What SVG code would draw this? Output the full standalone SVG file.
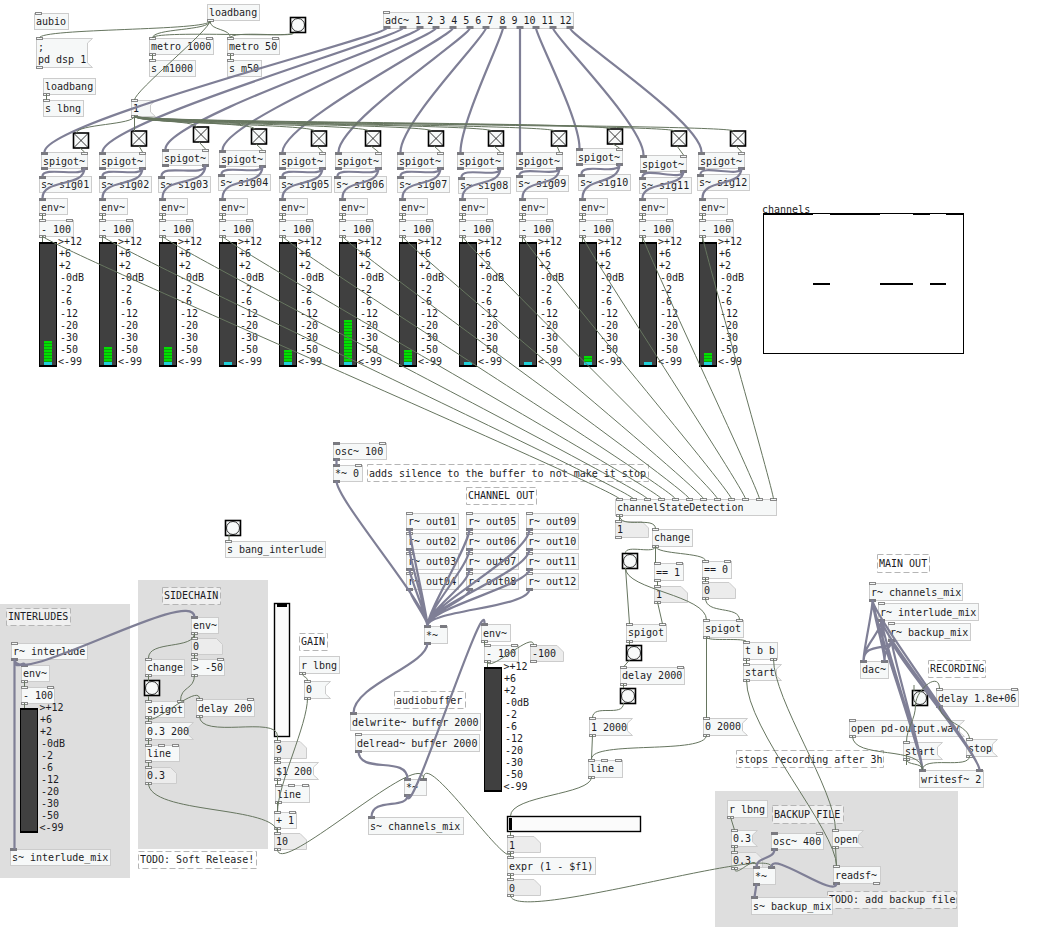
<svg xmlns="http://www.w3.org/2000/svg" width="1052" height="934" viewBox="0 0 1052 934">
<style>
text{font-family:"DejaVu Sans Mono","Liberation Mono",monospace;font-size:10px;fill:#1c1c24}
.b{fill:#f6f8f8;stroke:#ccc;stroke-width:1}
.n{fill:#ececec;stroke:#ccc;stroke-width:1}
.m{fill:#f6f8f8;stroke:#ccc;stroke-width:1}
.d{fill:#fff;fill-opacity:.55;stroke:#b5b5b5;stroke-width:1;stroke-dasharray:6 3}
.c{fill:#f6f8f8;stroke:#888;stroke-width:1;width:6px;height:2px;transform:translate(.5px,.5px)}
.s{fill:#7a7a80;width:7px;height:3px}
.g{fill:#dedede}
.t{fill:#f8fafa;stroke:#000;stroke-width:1.6;width:15px;height:15px}
.l{fill:none;stroke:#000;stroke-width:.8}
.vb{fill:#000;width:18px;height:125px}
.vi{fill:#404040;x:1px;y:2px;width:16px;height:121px}
.cy{fill:#20d0d8;x:5px;y:120px;width:8px;height:3px}
.gr{fill:url(#stripes)}
.w{fill:none;stroke:#66755f;stroke-width:1}
.a{fill:none;stroke:#7f7f96;stroke-width:2.2}
</style>
<defs>
<pattern id="stripes" width="8" height="3" patternUnits="userSpaceOnUse"><rect width="8" height="3" fill="#10a010"/><rect width="8" height="2" fill="#00e000"/></pattern>
</defs>
<g id="bg_panels">
<rect class="g" x="138" y="580" width="130" height="269"/>
<rect class="g" x="0" y="604" width="130" height="274"/>
<rect class="g" x="715" y="791" width="243" height="136"/>
</g>
<g id="aubio"><rect class="b" x="34.5" y="13.5" width="34" height="16"/><rect class="c" x="35" y="12"/><text x="36" y="25">aubio</text></g>
<g id="loadbang1"><rect class="b" x="207.5" y="4.5" width="52" height="16"/><rect class="c" x="207" y="19"/><text x="209" y="16">loadbang</text></g>
<g id="bang_top"><rect class="t" x="290.5" y="17.5"/><circle class="l" cx="298" cy="25" r="6.5"/></g>
<g id="msg_dsp"><polygon class="m" points="36.5,38.5 92.5,38.5 87.5,43 87.5,63 92.5,67.5 36.5,67.5"/><rect class="c" x="36" y="37"/><rect class="c" x="36" y="66"/><text x="38" y="51">;</text><text x="38" y="63">pd dsp 1</text></g>
<g id="metro1000"><rect class="b" x="149.5" y="38.5" width="64" height="16"/><rect class="c" x="149" y="37"/><rect class="c" x="206" y="37"/><rect class="c" x="149" y="53"/><text x="151" y="50">metro 1000</text></g>
<g id="metro50"><rect class="b" x="227.5" y="38.5" width="52" height="16"/><rect class="c" x="227" y="37"/><rect class="c" x="272" y="37"/><rect class="c" x="227" y="53"/><text x="229" y="50">metro 50</text></g>
<g id="s_m1000"><rect class="b" x="149.5" y="60.5" width="46" height="16"/><rect class="c" x="149" y="59"/><text x="151" y="72">s m1000</text></g>
<g id="s_m50"><rect class="b" x="227.5" y="60.5" width="34" height="16"/><rect class="c" x="227" y="59"/><text x="229" y="72">s m50</text></g>
<g id="loadbang2"><rect class="b" x="43.5" y="78.5" width="52" height="16"/><rect class="c" x="43" y="93"/><text x="45" y="90">loadbang</text></g>
<g id="s_lbng"><rect class="b" x="43.5" y="100.5" width="40" height="16"/><rect class="c" x="43" y="99"/><text x="45" y="112">s lbng</text></g>
<g id="msg_1"><polygon class="m" points="131.5,100.5 155.5,100.5 150.5,105 150.5,112 155.5,116.5 131.5,116.5"/><rect class="c" x="131" y="99"/><rect class="c" x="131" y="115"/><text x="133" y="112">1</text></g>
<g id="adc"><rect class="b" x="383.5" y="12.5" width="190" height="16"/><rect class="c" x="383" y="11"/><rect class="s" x="383.5" y="26"/><rect class="s" x="399.5" y="26"/><rect class="s" x="416.5" y="26"/><rect class="s" x="432.5" y="26"/><rect class="s" x="449.5" y="26"/><rect class="s" x="466.5" y="26"/><rect class="s" x="482.5" y="26"/><rect class="s" x="499.5" y="26"/><rect class="s" x="516.5" y="26"/><rect class="s" x="532.5" y="26"/><rect class="s" x="549.5" y="26"/><rect class="s" x="566.5" y="26"/><text x="385" y="24">adc~ 1 2 3 4 5 6 7 8 9 10 11 12</text></g>
<g id="tgl01"><rect class="t" x="73.5" y="133"/><path class="l" d="M73.5 133l15 15m0-15l-15 15"/></g>
<g id="tgl02"><rect class="t" x="131.5" y="131"/><path class="l" d="M131.5 131l15 15m0-15l-15 15"/></g>
<g id="tgl03"><rect class="t" x="193.5" y="127"/><path class="l" d="M193.5 127l15 15m0-15l-15 15"/></g>
<g id="tgl04"><rect class="t" x="251.5" y="129"/><path class="l" d="M251.5 129l15 15m0-15l-15 15"/></g>
<g id="tgl05"><rect class="t" x="311.5" y="131"/><path class="l" d="M311.5 131l15 15m0-15l-15 15"/></g>
<g id="tgl06"><rect class="t" x="365.5" y="131"/><path class="l" d="M365.5 131l15 15m0-15l-15 15"/></g>
<g id="tgl07"><rect class="t" x="428.5" y="131"/><path class="l" d="M428.5 131l15 15m0-15l-15 15"/></g>
<g id="tgl08"><rect class="t" x="488.5" y="131"/><path class="l" d="M488.5 131l15 15m0-15l-15 15"/></g>
<g id="tgl09"><rect class="t" x="551.5" y="131"/><path class="l" d="M551.5 131l15 15m0-15l-15 15"/></g>
<g id="tgl10"><rect class="t" x="607.5" y="129"/><path class="l" d="M607.5 129l15 15m0-15l-15 15"/></g>
<g id="tgl11"><rect class="t" x="671.5" y="131"/><path class="l" d="M671.5 131l15 15m0-15l-15 15"/></g>
<g id="tgl12"><rect class="t" x="730.5" y="131"/><path class="l" d="M730.5 131l15 15m0-15l-15 15"/></g>
<g id="spigot01" transform="translate(41,152)"><rect class="b" x=".5" y=".5" width="46" height="16"/><rect class="s" x="0" y="0"/><rect class="c" x="40" y="0"/><rect class="s" x="0" y="15"/><rect class="s" x="40" y="15"/><text x="2" y="13">spigot~</text></g>
<g id="spigot02" transform="translate(99,152)"><rect class="b" x=".5" y=".5" width="46" height="16"/><rect class="s" x="0" y="0"/><rect class="c" x="40" y="0"/><rect class="s" x="0" y="15"/><rect class="s" x="40" y="15"/><text x="2" y="13">spigot~</text></g>
<g id="spigot03" transform="translate(162,149)"><rect class="b" x=".5" y=".5" width="46" height="16"/><rect class="s" x="0" y="0"/><rect class="c" x="40" y="0"/><rect class="s" x="0" y="15"/><rect class="s" x="40" y="15"/><text x="2" y="13">spigot~</text></g>
<g id="spigot04" transform="translate(219,150)"><rect class="b" x=".5" y=".5" width="46" height="16"/><rect class="s" x="0" y="0"/><rect class="c" x="40" y="0"/><rect class="s" x="0" y="15"/><rect class="s" x="40" y="15"/><text x="2" y="13">spigot~</text></g>
<g id="spigot05" transform="translate(279,152)"><rect class="b" x=".5" y=".5" width="46" height="16"/><rect class="s" x="0" y="0"/><rect class="c" x="40" y="0"/><rect class="s" x="0" y="15"/><rect class="s" x="40" y="15"/><text x="2" y="13">spigot~</text></g>
<g id="spigot06" transform="translate(335,152)"><rect class="b" x=".5" y=".5" width="46" height="16"/><rect class="s" x="0" y="0"/><rect class="c" x="40" y="0"/><rect class="s" x="0" y="15"/><rect class="s" x="40" y="15"/><text x="2" y="13">spigot~</text></g>
<g id="spigot07" transform="translate(397,152)"><rect class="b" x=".5" y=".5" width="46" height="16"/><rect class="s" x="0" y="0"/><rect class="c" x="40" y="0"/><rect class="s" x="0" y="15"/><rect class="s" x="40" y="15"/><text x="2" y="13">spigot~</text></g>
<g id="spigot08" transform="translate(457,152)"><rect class="b" x=".5" y=".5" width="46" height="16"/><rect class="s" x="0" y="0"/><rect class="c" x="40" y="0"/><rect class="s" x="0" y="15"/><rect class="s" x="40" y="15"/><text x="2" y="13">spigot~</text></g>
<g id="spigot09" transform="translate(516,152)"><rect class="b" x=".5" y=".5" width="46" height="16"/><rect class="s" x="0" y="0"/><rect class="c" x="40" y="0"/><rect class="s" x="0" y="15"/><rect class="s" x="40" y="15"/><text x="2" y="13">spigot~</text></g>
<g id="spigot10" transform="translate(576,148)"><rect class="b" x=".5" y=".5" width="46" height="16"/><rect class="s" x="0" y="0"/><rect class="c" x="40" y="0"/><rect class="s" x="0" y="15"/><rect class="s" x="40" y="15"/><text x="2" y="13">spigot~</text></g>
<g id="spigot11" transform="translate(640,155)"><rect class="b" x=".5" y=".5" width="46" height="16"/><rect class="s" x="0" y="0"/><rect class="c" x="40" y="0"/><rect class="s" x="0" y="15"/><rect class="s" x="40" y="15"/><text x="2" y="13">spigot~</text></g>
<g id="spigot12" transform="translate(698,152)"><rect class="b" x=".5" y=".5" width="46" height="16"/><rect class="s" x="0" y="0"/><rect class="c" x="40" y="0"/><rect class="s" x="0" y="15"/><rect class="s" x="40" y="15"/><text x="2" y="13">spigot~</text></g>
<g id="sig01" transform="translate(39,176)"><rect class="b" x=".5" y=".5" width="52" height="16"/><rect class="s" x="0" y="0"/><text x="2" y="12">s~ sig01</text></g>
<g id="sig02" transform="translate(99,176)"><rect class="b" x=".5" y=".5" width="52" height="16"/><rect class="s" x="0" y="0"/><text x="2" y="12">s~ sig02</text></g>
<g id="sig03" transform="translate(158,176)"><rect class="b" x=".5" y=".5" width="52" height="16"/><rect class="s" x="0" y="0"/><text x="2" y="12">s~ sig03</text></g>
<g id="sig04" transform="translate(218,174)"><rect class="b" x=".5" y=".5" width="52" height="16"/><rect class="s" x="0" y="0"/><text x="2" y="12">s~ sig04</text></g>
<g id="sig05" transform="translate(279,176)"><rect class="b" x=".5" y=".5" width="52" height="16"/><rect class="s" x="0" y="0"/><text x="2" y="12">s~ sig05</text></g>
<g id="sig06" transform="translate(334,176)"><rect class="b" x=".5" y=".5" width="52" height="16"/><rect class="s" x="0" y="0"/><text x="2" y="12">s~ sig06</text></g>
<g id="sig07" transform="translate(397,176)"><rect class="b" x=".5" y=".5" width="52" height="16"/><rect class="s" x="0" y="0"/><text x="2" y="12">s~ sig07</text></g>
<g id="sig08" transform="translate(458,177)"><rect class="b" x=".5" y=".5" width="52" height="16"/><rect class="s" x="0" y="0"/><text x="2" y="12">s~ sig08</text></g>
<g id="sig09" transform="translate(516,175)"><rect class="b" x=".5" y=".5" width="52" height="16"/><rect class="s" x="0" y="0"/><text x="2" y="12">s~ sig09</text></g>
<g id="sig10" transform="translate(578,174)"><rect class="b" x=".5" y=".5" width="52" height="16"/><rect class="s" x="0" y="0"/><text x="2" y="12">s~ sig10</text></g>
<g id="sig11" transform="translate(639,177)"><rect class="b" x=".5" y=".5" width="52" height="16"/><rect class="s" x="0" y="0"/><text x="2" y="12">s~ sig11</text></g>
<g id="sig12" transform="translate(697,174)"><rect class="b" x=".5" y=".5" width="52" height="16"/><rect class="s" x="0" y="0"/><text x="2" y="12">s~ sig12</text></g>
<g id="env01" transform="translate(39,198)"><rect class="b" x=".5" y=".5" width="28" height="16"/><rect class="s" x="0" y="0"/><rect class="c" x="0" y="15"/><text x="2" y="13">env~</text></g>
<g id="env02" transform="translate(99,198)"><rect class="b" x=".5" y=".5" width="28" height="16"/><rect class="s" x="0" y="0"/><rect class="c" x="0" y="15"/><text x="2" y="13">env~</text></g>
<g id="env03" transform="translate(159,198)"><rect class="b" x=".5" y=".5" width="28" height="16"/><rect class="s" x="0" y="0"/><rect class="c" x="0" y="15"/><text x="2" y="13">env~</text></g>
<g id="env04" transform="translate(219,198)"><rect class="b" x=".5" y=".5" width="28" height="16"/><rect class="s" x="0" y="0"/><rect class="c" x="0" y="15"/><text x="2" y="13">env~</text></g>
<g id="env05" transform="translate(279,198)"><rect class="b" x=".5" y=".5" width="28" height="16"/><rect class="s" x="0" y="0"/><rect class="c" x="0" y="15"/><text x="2" y="13">env~</text></g>
<g id="env06" transform="translate(339,198)"><rect class="b" x=".5" y=".5" width="28" height="16"/><rect class="s" x="0" y="0"/><rect class="c" x="0" y="15"/><text x="2" y="13">env~</text></g>
<g id="env07" transform="translate(399,198)"><rect class="b" x=".5" y=".5" width="28" height="16"/><rect class="s" x="0" y="0"/><rect class="c" x="0" y="15"/><text x="2" y="13">env~</text></g>
<g id="env08" transform="translate(459,198)"><rect class="b" x=".5" y=".5" width="28" height="16"/><rect class="s" x="0" y="0"/><rect class="c" x="0" y="15"/><text x="2" y="13">env~</text></g>
<g id="env09" transform="translate(519,198)"><rect class="b" x=".5" y=".5" width="28" height="16"/><rect class="s" x="0" y="0"/><rect class="c" x="0" y="15"/><text x="2" y="13">env~</text></g>
<g id="env10" transform="translate(579,198)"><rect class="b" x=".5" y=".5" width="28" height="16"/><rect class="s" x="0" y="0"/><rect class="c" x="0" y="15"/><text x="2" y="13">env~</text></g>
<g id="env11" transform="translate(639,198)"><rect class="b" x=".5" y=".5" width="28" height="16"/><rect class="s" x="0" y="0"/><rect class="c" x="0" y="15"/><text x="2" y="13">env~</text></g>
<g id="env12" transform="translate(699,198)"><rect class="b" x=".5" y=".5" width="28" height="16"/><rect class="s" x="0" y="0"/><rect class="c" x="0" y="15"/><text x="2" y="13">env~</text></g>
<g id="minus01" transform="translate(39,220)"><rect class="b" x=".5" y=".5" width="34" height="16"/><rect class="c" x="0" y="-1"/><rect class="c" x="27" y="-1"/><rect class="c" x="0" y="15"/><text x="2" y="13">- 100</text></g>
<g id="minus02" transform="translate(99,220)"><rect class="b" x=".5" y=".5" width="34" height="16"/><rect class="c" x="0" y="-1"/><rect class="c" x="27" y="-1"/><rect class="c" x="0" y="15"/><text x="2" y="13">- 100</text></g>
<g id="minus03" transform="translate(159,220)"><rect class="b" x=".5" y=".5" width="34" height="16"/><rect class="c" x="0" y="-1"/><rect class="c" x="27" y="-1"/><rect class="c" x="0" y="15"/><text x="2" y="13">- 100</text></g>
<g id="minus04" transform="translate(219,220)"><rect class="b" x=".5" y=".5" width="34" height="16"/><rect class="c" x="0" y="-1"/><rect class="c" x="27" y="-1"/><rect class="c" x="0" y="15"/><text x="2" y="13">- 100</text></g>
<g id="minus05" transform="translate(279,220)"><rect class="b" x=".5" y=".5" width="34" height="16"/><rect class="c" x="0" y="-1"/><rect class="c" x="27" y="-1"/><rect class="c" x="0" y="15"/><text x="2" y="13">- 100</text></g>
<g id="minus06" transform="translate(339,220)"><rect class="b" x=".5" y=".5" width="34" height="16"/><rect class="c" x="0" y="-1"/><rect class="c" x="27" y="-1"/><rect class="c" x="0" y="15"/><text x="2" y="13">- 100</text></g>
<g id="minus07" transform="translate(399,220)"><rect class="b" x=".5" y=".5" width="34" height="16"/><rect class="c" x="0" y="-1"/><rect class="c" x="27" y="-1"/><rect class="c" x="0" y="15"/><text x="2" y="13">- 100</text></g>
<g id="minus08" transform="translate(459,220)"><rect class="b" x=".5" y=".5" width="34" height="16"/><rect class="c" x="0" y="-1"/><rect class="c" x="27" y="-1"/><rect class="c" x="0" y="15"/><text x="2" y="13">- 100</text></g>
<g id="minus09" transform="translate(519,220)"><rect class="b" x=".5" y=".5" width="34" height="16"/><rect class="c" x="0" y="-1"/><rect class="c" x="27" y="-1"/><rect class="c" x="0" y="15"/><text x="2" y="13">- 100</text></g>
<g id="minus10" transform="translate(579,220)"><rect class="b" x=".5" y=".5" width="34" height="16"/><rect class="c" x="0" y="-1"/><rect class="c" x="27" y="-1"/><rect class="c" x="0" y="15"/><text x="2" y="13">- 100</text></g>
<g id="minus11" transform="translate(639,220)"><rect class="b" x=".5" y=".5" width="34" height="16"/><rect class="c" x="0" y="-1"/><rect class="c" x="27" y="-1"/><rect class="c" x="0" y="15"/><text x="2" y="13">- 100</text></g>
<g id="minus12" transform="translate(699,220)"><rect class="b" x=".5" y=".5" width="34" height="16"/><rect class="c" x="0" y="-1"/><rect class="c" x="27" y="-1"/><rect class="c" x="0" y="15"/><text x="2" y="13">- 100</text></g>
<g id="vu01" transform="translate(39,242)"><rect class="vb"/><rect class="vi"/><rect class="gr" x="5" y="99" width="8" height="21"/><rect class="cy"/><text x="19" y="2.5">&gt;+12</text><text x="20" y="14.5">+6</text><text x="20" y="26.5">+2</text><text x="21" y="38.5">-0dB</text><text x="21" y="50.5">-2</text><text x="21" y="62.5">-6</text><text x="21" y="74.5">-12</text><text x="21" y="86.5">-20</text><text x="21" y="98.5">-30</text><text x="21" y="110.5">-50</text><text x="19" y="122.5">&lt;-99</text></g>
<g id="vu02" transform="translate(99,242)"><rect class="vb"/><rect class="vi"/><rect class="gr" x="5" y="105" width="8" height="15"/><rect class="cy"/><text x="19" y="2.5">&gt;+12</text><text x="20" y="14.5">+6</text><text x="20" y="26.5">+2</text><text x="21" y="38.5">-0dB</text><text x="21" y="50.5">-2</text><text x="21" y="62.5">-6</text><text x="21" y="74.5">-12</text><text x="21" y="86.5">-20</text><text x="21" y="98.5">-30</text><text x="21" y="110.5">-50</text><text x="19" y="122.5">&lt;-99</text></g>
<g id="vu03" transform="translate(159,242)"><rect class="vb"/><rect class="vi"/><rect class="gr" x="5" y="105" width="8" height="15"/><rect class="cy"/><text x="19" y="2.5">&gt;+12</text><text x="20" y="14.5">+6</text><text x="20" y="26.5">+2</text><text x="21" y="38.5">-0dB</text><text x="21" y="50.5">-2</text><text x="21" y="62.5">-6</text><text x="21" y="74.5">-12</text><text x="21" y="86.5">-20</text><text x="21" y="98.5">-30</text><text x="21" y="110.5">-50</text><text x="19" y="122.5">&lt;-99</text></g>
<g id="vu04" transform="translate(219,242)"><rect class="vb"/><rect class="vi"/><rect class="cy"/><text x="19" y="2.5">&gt;+12</text><text x="20" y="14.5">+6</text><text x="20" y="26.5">+2</text><text x="21" y="38.5">-0dB</text><text x="21" y="50.5">-2</text><text x="21" y="62.5">-6</text><text x="21" y="74.5">-12</text><text x="21" y="86.5">-20</text><text x="21" y="98.5">-30</text><text x="21" y="110.5">-50</text><text x="19" y="122.5">&lt;-99</text></g>
<g id="vu05" transform="translate(279,242)"><rect class="vb"/><rect class="vi"/><rect class="gr" x="5" y="108" width="8" height="12"/><rect class="cy"/><text x="19" y="2.5">&gt;+12</text><text x="20" y="14.5">+6</text><text x="20" y="26.5">+2</text><text x="21" y="38.5">-0dB</text><text x="21" y="50.5">-2</text><text x="21" y="62.5">-6</text><text x="21" y="74.5">-12</text><text x="21" y="86.5">-20</text><text x="21" y="98.5">-30</text><text x="21" y="110.5">-50</text><text x="19" y="122.5">&lt;-99</text></g>
<g id="vu06" transform="translate(339,242)"><rect class="vb"/><rect class="vi"/><rect class="gr" x="5" y="78" width="8" height="42"/><rect class="cy"/><text x="19" y="2.5">&gt;+12</text><text x="20" y="14.5">+6</text><text x="20" y="26.5">+2</text><text x="21" y="38.5">-0dB</text><text x="21" y="50.5">-2</text><text x="21" y="62.5">-6</text><text x="21" y="74.5">-12</text><text x="21" y="86.5">-20</text><text x="21" y="98.5">-30</text><text x="21" y="110.5">-50</text><text x="19" y="122.5">&lt;-99</text></g>
<g id="vu07" transform="translate(399,242)"><rect class="vb"/><rect class="vi"/><rect class="gr" x="5" y="108" width="8" height="12"/><rect class="cy"/><text x="19" y="2.5">&gt;+12</text><text x="20" y="14.5">+6</text><text x="20" y="26.5">+2</text><text x="21" y="38.5">-0dB</text><text x="21" y="50.5">-2</text><text x="21" y="62.5">-6</text><text x="21" y="74.5">-12</text><text x="21" y="86.5">-20</text><text x="21" y="98.5">-30</text><text x="21" y="110.5">-50</text><text x="19" y="122.5">&lt;-99</text></g>
<g id="vu08" transform="translate(459,242)"><rect class="vb"/><rect class="vi"/><rect class="cy"/><text x="19" y="2.5">&gt;+12</text><text x="20" y="14.5">+6</text><text x="20" y="26.5">+2</text><text x="21" y="38.5">-0dB</text><text x="21" y="50.5">-2</text><text x="21" y="62.5">-6</text><text x="21" y="74.5">-12</text><text x="21" y="86.5">-20</text><text x="21" y="98.5">-30</text><text x="21" y="110.5">-50</text><text x="19" y="122.5">&lt;-99</text></g>
<g id="vu09" transform="translate(519,242)"><rect class="vb"/><rect class="vi"/><rect class="cy"/><text x="19" y="2.5">&gt;+12</text><text x="20" y="14.5">+6</text><text x="20" y="26.5">+2</text><text x="21" y="38.5">-0dB</text><text x="21" y="50.5">-2</text><text x="21" y="62.5">-6</text><text x="21" y="74.5">-12</text><text x="21" y="86.5">-20</text><text x="21" y="98.5">-30</text><text x="21" y="110.5">-50</text><text x="19" y="122.5">&lt;-99</text></g>
<g id="vu10" transform="translate(579,242)"><rect class="vb"/><rect class="vi"/><rect class="gr" x="5" y="114" width="8" height="6"/><rect class="cy"/><text x="19" y="2.5">&gt;+12</text><text x="20" y="14.5">+6</text><text x="20" y="26.5">+2</text><text x="21" y="38.5">-0dB</text><text x="21" y="50.5">-2</text><text x="21" y="62.5">-6</text><text x="21" y="74.5">-12</text><text x="21" y="86.5">-20</text><text x="21" y="98.5">-30</text><text x="21" y="110.5">-50</text><text x="19" y="122.5">&lt;-99</text></g>
<g id="vu11" transform="translate(639,242)"><rect class="vb"/><rect class="vi"/><rect class="cy"/><text x="19" y="2.5">&gt;+12</text><text x="20" y="14.5">+6</text><text x="20" y="26.5">+2</text><text x="21" y="38.5">-0dB</text><text x="21" y="50.5">-2</text><text x="21" y="62.5">-6</text><text x="21" y="74.5">-12</text><text x="21" y="86.5">-20</text><text x="21" y="98.5">-30</text><text x="21" y="110.5">-50</text><text x="19" y="122.5">&lt;-99</text></g>
<g id="vu12" transform="translate(699,242)"><rect class="vb"/><rect class="vi"/><rect class="gr" x="5" y="111" width="8" height="9"/><rect class="cy"/><text x="19" y="2.5">&gt;+12</text><text x="20" y="14.5">+6</text><text x="20" y="26.5">+2</text><text x="21" y="38.5">-0dB</text><text x="21" y="50.5">-2</text><text x="21" y="62.5">-6</text><text x="21" y="74.5">-12</text><text x="21" y="86.5">-20</text><text x="21" y="98.5">-30</text><text x="21" y="110.5">-50</text><text x="19" y="122.5">&lt;-99</text></g>
<g id="channels_array"><text x="762" y="213">channels</text><rect x="763.5" y="213.5" width="200" height="140" fill="#fff" stroke="#000" stroke-width="1"/><path fill="none" stroke="#000" stroke-width="2" d="M763 214H813M830 214H880M913 214H930M946 214H963M813 284H830M880 284H913M930 284H946"/></g>

<g id="bang_interlude"><rect class="t" x="225.5" y="520.5"/><circle class="l" cx="233" cy="528" r="6.5"/></g>
<g id="s_bang_interlude"><rect class="b" x="225.5" y="541.5" width="100" height="16"/><rect class="c" x="225" y="540"/><text x="227" y="553">s bang_interlude</text></g>
<g id="c_sidechain"><rect class="d" x="162.5" y="587.5" width="58" height="17"/><text x="164" y="599">SIDECHAIN</text></g>
<g id="c_interludes"><rect class="d" x="6.5" y="608.5" width="64" height="17"/><text x="8" y="620">INTERLUDES</text></g>
<g id="r_interlude"><rect class="b" x="11.5" y="643.5" width="76" height="16"/><rect class="c" x="11" y="642"/><rect class="s" x="11" y="658"/><text x="13" y="655">r~ interlude</text></g>
<g id="env_int"><rect class="b" x="21.5" y="665.5" width="28" height="16"/><rect class="s" x="21" y="664"/><rect class="c" x="21" y="680"/><text x="23" y="677">env~</text></g>
<g id="minus_int"><rect class="b" x="21.5" y="687.5" width="33" height="16"/><rect class="c" x="21" y="686"/><rect class="c" x="47" y="686"/><rect class="c" x="21" y="702"/><text x="23" y="699">- 100</text></g>
<g id="vu_int" transform="translate(20,708)"><rect class="vb"/><rect class="vi"/><text x="19.5" y="2.5">&gt;+12</text><text x="20" y="14.5">+6</text><text x="20" y="26.5">+2</text><text x="21" y="38.5">-0dB</text><text x="21" y="50.5">-2</text><text x="21" y="62.5">-6</text><text x="21" y="74.5">-12</text><text x="21" y="86.5">-20</text><text x="21" y="98.5">-30</text><text x="21" y="110.5">-50</text><text x="19.5" y="122.5">&lt;-99</text></g>
<g id="s_interlude_mix"><rect class="b" x="10.5" y="849.5" width="100" height="16"/><rect class="s" x="10" y="848"/><text x="12" y="861">s~ interlude_mix</text></g>
<g id="env_side"><rect class="b" x="191.5" y="617.5" width="27" height="16"/><rect class="s" x="191" y="616"/><rect class="c" x="191" y="632"/><text x="193" y="629">env~</text></g>
<g id="num_0a"><path class="n" d="M191.5 638.5H216.5L222.5 644.5V654.5H191.5Z"/><rect class="c" x="191" y="637"/><rect class="c" x="191" y="653"/><text x="193" y="650">0</text></g>
<g id="gt50"><rect class="b" x="191.5" y="659.5" width="33" height="16"/><rect class="c" x="191" y="658"/><rect class="c" x="217" y="658"/><rect class="c" x="191" y="674"/><text x="193" y="671">&gt; -50</text></g>
<g id="change_a"><rect class="b" x="145.5" y="659.5" width="39" height="16"/><rect class="c" x="145" y="658"/><rect class="c" x="145" y="674"/><text x="147" y="671">change</text></g>
<g id="bang_a"><rect class="t" x="144.5" y="680.5"/><circle class="l" cx="152" cy="688" r="6.5"/></g>
<g id="spigot_a"><rect class="b" x="145.5" y="701.5" width="39" height="16"/><rect class="c" x="145" y="700"/><rect class="c" x="177" y="700"/><rect class="c" x="145" y="716"/><text x="147" y="713">spigot</text></g>
<g id="delay200"><rect class="b" x="196.5" y="699.5" width="58" height="17"/><rect class="c" x="196" y="698"/><rect class="c" x="247" y="698"/><rect class="c" x="196" y="715"/><text x="198" y="712">delay 200</text></g>
<g id="msg_03_200"><polygon class="m" points="145.5,722.5 193.5,722.5 188.5,727 188.5,735 193.5,739.5 145.5,739.5"/><rect class="c" x="145" y="721"/><rect class="c" x="145" y="738"/><text x="147" y="735">0.3 200</text></g>
<g id="line_a"><rect class="b" x="145.5" y="745.5" width="34" height="16"/><rect class="c" x="145" y="744"/><rect class="c" x="158" y="744"/><rect class="c" x="172" y="744"/><rect class="c" x="145" y="760"/><text x="147" y="757">line</text></g>
<g id="num_03a"><path class="n" d="M145.5 767.5H170.5L176.5 773.5V783.5H145.5Z"/><rect class="c" x="145" y="766"/><rect class="c" x="145" y="782"/><text x="147" y="779">0.3</text></g>
<g id="c_todo_soft"><rect class="d" x="138.5" y="851.5" width="118" height="17"/><text x="140" y="863">TODO: Soft Release!</text></g>
<g id="vslider"><rect x="274.5" y="603.5" width="15" height="133" fill="#fbfbfb" stroke="#000" stroke-width="1.4"/><rect x="277" y="604" width="10" height="3" fill="#000"/></g>
<g id="c_gain"><rect class="d" x="299.5" y="633.5" width="28" height="17"/><text x="301" y="645">GAIN</text></g>
<g id="r_lbng_a"><rect class="b" x="299.5" y="656.5" width="40" height="17"/><rect class="c" x="299" y="672"/><text x="301" y="669">r lbng</text></g>
<g id="msg_0"><polygon class="m" points="304.5,681.5 330.5,681.5 325.5,686 325.5,694 330.5,698.5 304.5,698.5"/><rect class="c" x="304" y="680"/><rect class="c" x="304" y="697"/><text x="306" y="693">0</text></g>
<g id="num_9"><path class="n" d="M274.5 741.5H300L306.5 748V758.5H274.5Z"/><rect class="c" x="274" y="740"/><rect class="c" x="274" y="757"/><text x="276" y="753">9</text></g>
<g id="msg_1_200"><polygon class="m" points="274.5,762.5 318.5,762.5 313.5,767 313.5,775 318.5,779.5 274.5,779.5"/><rect class="c" x="274" y="761"/><rect class="c" x="274" y="778"/><text x="276" y="775">$1 200</text></g>
<g id="line_b"><rect class="b" x="275.5" y="785.5" width="34" height="17"/><rect class="c" x="275" y="784"/><rect class="c" x="288" y="784"/><rect class="c" x="302" y="784"/><rect class="c" x="275" y="801"/><text x="277" y="798">line</text></g>
<g id="plus1"><rect class="b" x="274.5" y="812.5" width="22" height="16"/><rect class="c" x="274" y="811"/><rect class="c" x="289" y="811"/><rect class="c" x="274" y="827"/><text x="276" y="824">+ 1</text></g>
<g id="num_10"><path class="n" d="M274.5 833.5H300L306.5 840V849.5H274.5Z"/><rect class="c" x="274" y="832"/><rect class="c" x="274" y="848"/><text x="276" y="845">10</text></g>

<g id="osc100"><rect class="b" x="333.5" y="443.5" width="53" height="16"/><rect class="s" x="333" y="442"/><rect class="c" x="379" y="442"/><rect class="s" x="333" y="458"/><text x="335" y="455">osc~ 100</text></g>
<g id="mul0"><rect class="b" x="333.5" y="465.5" width="29" height="16"/><rect class="s" x="333" y="464"/><rect class="c" x="355" y="464"/><rect class="s" x="333" y="480"/><text x="335" y="477">*~ 0</text></g>
<g id="c_silence"><rect class="d" x="367.5" y="464.5" width="281" height="17"/><text x="369" y="477">adds silence to the buffer to not make it stop</text></g>
<g id="c_channel_out"><rect class="d" x="466.5" y="487.5" width="70" height="17"/><text x="468" y="499">CHANNEL OUT</text></g>
<g id="out01"><rect class="b" x="406.5" y="513.5" width="52" height="16"/><rect class="c" x="406" y="512"/><rect class="s" x="406" y="528"/><text x="408" y="525">r~ out01</text></g>
<g id="out02"><rect class="b" x="406.5" y="533.5" width="52" height="16"/><rect class="c" x="406" y="532"/><rect class="s" x="406" y="548"/><text x="408" y="545">r~ out02</text></g>
<g id="out03"><rect class="b" x="406.5" y="553.5" width="52" height="16"/><rect class="c" x="406" y="552"/><rect class="s" x="406" y="568"/><text x="408" y="565">r~ out03</text></g>
<g id="out04"><rect class="b" x="406.5" y="573.5" width="52" height="16"/><rect class="c" x="406" y="572"/><rect class="s" x="406" y="588"/><text x="408" y="585">r~ out04</text></g>
<g id="out05"><rect class="b" x="466.5" y="513.5" width="52" height="16"/><rect class="c" x="466" y="512"/><rect class="s" x="466" y="528"/><text x="468" y="525">r~ out05</text></g>
<g id="out06"><rect class="b" x="466.5" y="533.5" width="52" height="16"/><rect class="c" x="466" y="532"/><rect class="s" x="466" y="548"/><text x="468" y="545">r~ out06</text></g>
<g id="out07"><rect class="b" x="466.5" y="553.5" width="52" height="16"/><rect class="c" x="466" y="552"/><rect class="s" x="466" y="568"/><text x="468" y="565">r~ out07</text></g>
<g id="out08"><rect class="b" x="466.5" y="573.5" width="52" height="16"/><rect class="c" x="466" y="572"/><rect class="s" x="466" y="588"/><text x="468" y="585">r~ out08</text></g>
<g id="out09"><rect class="b" x="526.5" y="513.5" width="52" height="16"/><rect class="c" x="526" y="512"/><rect class="s" x="526" y="528"/><text x="528" y="525">r~ out09</text></g>
<g id="out10"><rect class="b" x="526.5" y="533.5" width="52" height="16"/><rect class="c" x="526" y="532"/><rect class="s" x="526" y="548"/><text x="528" y="545">r~ out10</text></g>
<g id="out11"><rect class="b" x="526.5" y="553.5" width="52" height="16"/><rect class="c" x="526" y="552"/><rect class="s" x="526" y="568"/><text x="528" y="565">r~ out11</text></g>
<g id="out12"><rect class="b" x="526.5" y="573.5" width="52" height="16"/><rect class="c" x="526" y="572"/><rect class="s" x="526" y="588"/><text x="528" y="585">r~ out12</text></g>
<g id="mul_main"><rect class="b" x="424.5" y="626.5" width="23" height="17"/><rect class="s" x="424" y="625"/><rect class="s" x="440" y="625"/><rect class="s" x="424" y="642"/><text x="426" y="639">*~</text></g>
<g id="env_main"><rect class="b" x="481.5" y="624.5" width="29" height="17"/><rect class="s" x="481" y="623"/><rect class="c" x="481" y="640"/><text x="483" y="637">env~</text></g>
<g id="minus_main"><rect class="b" x="484.5" y="645.5" width="34" height="16"/><rect class="c" x="484" y="644"/><rect class="c" x="511" y="644"/><rect class="c" x="484" y="660"/><text x="486" y="657">- 100</text></g>
<g id="num_m100"><path class="n" d="M530.5 645.5H557L563.5 652V661.5H530.5Z"/><rect class="c" x="530" y="644"/><rect class="c" x="530" y="660"/><text x="532" y="657">-100</text></g>
<g id="vu_main" transform="translate(484,667)"><rect class="vb"/><rect class="vi"/><text x="19.5" y="2.5">&gt;+12</text><text x="20" y="14.5">+6</text><text x="20" y="26.5">+2</text><text x="21" y="38.5">-0dB</text><text x="21" y="50.5">-2</text><text x="21" y="62.5">-6</text><text x="21" y="74.5">-12</text><text x="21" y="86.5">-20</text><text x="21" y="98.5">-30</text><text x="21" y="110.5">-50</text><text x="19.5" y="122.5">&lt;-99</text></g>
<g id="c_audiobuffer"><rect class="d" x="394.5" y="691.5" width="71" height="17"/><text x="396" y="704">audiobuffer</text></g>
<g id="delwrite"><rect class="b" x="350.5" y="713.5" width="130" height="17"/><rect class="s" x="350" y="712"/><text x="352" y="726">delwrite~ buffer 2000</text></g>
<g id="delread"><rect class="b" x="355.5" y="734.5" width="124" height="17"/><rect class="c" x="355" y="733"/><rect class="s" x="355" y="750"/><text x="357" y="747">delread~ buffer 2000</text></g>
<g id="mul_b"><rect class="b" x="404.5" y="779.5" width="22" height="16"/><rect class="s" x="404" y="778"/><rect class="s" x="420" y="778"/><rect class="s" x="404" y="794"/><text x="406" y="791">*~</text></g>
<g id="s_channels_mix"><rect class="b" x="368.5" y="817.5" width="95" height="17"/><rect class="s" x="368" y="816"/><text x="370" y="830">s~ channels_mix</text></g>
<g id="hslider"><rect x="507.5" y="816.5" width="133" height="15" fill="#fbfbfb" stroke="#000" stroke-width="1.4"/><rect x="509" y="818" width="3" height="12" fill="#000"/></g>
<g id="num_1a"><path class="n" d="M507.5 836.5H534L540.5 843V852.5H507.5Z"/><rect class="c" x="507" y="835"/><rect class="c" x="507" y="851"/><text x="509" y="849">1</text></g>
<g id="expr"><rect class="b" x="507.5" y="857.5" width="88" height="17"/><rect class="c" x="507" y="856"/><rect class="c" x="507" y="873"/><text x="509" y="870">expr (1 - $f1)</text></g>
<g id="num_0b"><path class="n" d="M507.5 879.5H534L540.5 886V895.5H507.5Z"/><rect class="c" x="507" y="878"/><rect class="c" x="507" y="894"/><text x="509" y="892">0</text></g>
<g id="msg_1_2000"><polygon class="m" points="589.5,718.5 632.5,718.5 627.5,723 627.5,731 632.5,735.5 589.5,735.5"/><rect class="c" x="589" y="717"/><rect class="c" x="589" y="734"/><text x="591" y="731">1 2000</text></g>
<g id="line_c"><rect class="b" x="588.5" y="760.5" width="34" height="17"/><rect class="c" x="588" y="759"/><rect class="c" x="601" y="759"/><rect class="c" x="615" y="759"/><rect class="c" x="588" y="776"/><text x="590" y="772">line</text></g>
<g id="channelStateDetection"><rect class="b" x="615.5" y="499.5" width="161" height="16"/><rect class="c" x="616" y="498"/><rect class="c" x="630" y="498"/><rect class="c" x="644" y="498"/><rect class="c" x="658" y="498"/><rect class="c" x="672" y="498"/><rect class="c" x="686" y="498"/><rect class="c" x="700" y="498"/><rect class="c" x="714" y="498"/><rect class="c" x="728" y="498"/><rect class="c" x="742" y="498"/><rect class="c" x="756" y="498"/><rect class="c" x="770" y="498"/><rect class="c" x="616" y="514"/><text x="617" y="511">channelStateDetection</text></g>
<g id="num_1b"><path class="n" d="M615.5 521.5H642L648.5 528V537.5H615.5Z"/><rect class="c" x="615" y="520"/><rect class="c" x="615" y="536"/><text x="617" y="533">1</text></g>
<g id="change_b"><rect class="b" x="652.5" y="529.5" width="40" height="17"/><rect class="c" x="652" y="528"/><rect class="c" x="652" y="545"/><text x="654" y="541">change</text></g>
<g id="bang_b"><rect class="t" x="622.5" y="553.5"/><circle class="l" cx="630" cy="561" r="6.5"/></g>
<g id="eq1"><rect class="b" x="654.5" y="563.5" width="29" height="17"/><rect class="c" x="654" y="562"/><rect class="c" x="676" y="562"/><rect class="c" x="654" y="579"/><text x="656" y="576">== 1</text></g>
<g id="eq0"><rect class="b" x="702.5" y="561.5" width="29" height="17"/><rect class="c" x="702" y="560"/><rect class="c" x="724" y="560"/><rect class="c" x="702" y="577"/><text x="704" y="573">== 0</text></g>
<g id="num_1c"><path class="n" d="M654.5 586.5H681L687.5 593V602.5H654.5Z"/><rect class="c" x="654" y="585"/><rect class="c" x="654" y="601"/><text x="656" y="598">1</text></g>
<g id="num_0c"><path class="n" d="M702.5 582.5H729L735.5 589V598.5H702.5Z"/><rect class="c" x="702" y="581"/><rect class="c" x="702" y="597"/><text x="704" y="594">0</text></g>
<g id="spigot_b"><rect class="b" x="626.5" y="624.5" width="40" height="17"/><rect class="c" x="626" y="623"/><rect class="c" x="659" y="623"/><rect class="c" x="626" y="640"/><text x="628" y="636">spigot</text></g>
<g id="spigot_c"><rect class="b" x="703.5" y="620.5" width="40" height="17"/><rect class="c" x="703" y="619"/><rect class="c" x="736" y="619"/><rect class="c" x="703" y="636"/><text x="705" y="632">spigot</text></g>
<g id="bang_c"><rect class="t" x="626.5" y="645.5"/><circle class="l" cx="634" cy="653" r="6.5"/></g>
<g id="delay2000"><rect class="b" x="620.5" y="667.5" width="64" height="17"/><rect class="c" x="620" y="666"/><rect class="c" x="677" y="666"/><rect class="c" x="620" y="683"/><text x="622" y="679">delay 2000</text></g>
<g id="bang_d"><rect class="t" x="620.5" y="688.5"/><circle class="l" cx="628" cy="696" r="6.5"/></g>
<g id="tbb"><rect class="b" x="743.5" y="642.5" width="34" height="17"/><rect class="c" x="743" y="641"/><rect class="c" x="743" y="658"/><rect class="c" x="770" y="658"/><text x="745" y="654">t b b</text></g>
<g id="msg_start_a"><polygon class="m" points="743.5,664.5 781.5,664.5 776.5,669 776.5,676 781.5,680.5 743.5,680.5"/><rect class="c" x="743" y="663"/><rect class="c" x="743" y="679"/><text x="745" y="676">start</text></g>
<g id="msg_0_2000"><polygon class="m" points="703.5,718.5 747.5,718.5 742.5,723 742.5,731 747.5,735.5 703.5,735.5"/><rect class="c" x="703" y="717"/><rect class="c" x="703" y="734"/><text x="705" y="730">0 2000</text></g>
<g id="c_stops"><rect class="d" x="736.5" y="750.5" width="147" height="17"/><text x="738" y="763">stops recording after 3h</text></g>
<g id="c_main_out"><rect class="d" x="877.5" y="554.5" width="52" height="18"/><text x="879" y="567">MAIN OUT</text></g>
<g id="r_channels_mix"><rect class="b" x="869.5" y="583.5" width="93" height="17"/><rect class="c" x="869" y="582"/><rect class="s" x="869" y="599"/><text x="871" y="596">r~ channels_mix</text></g>
<g id="r_interlude_mix"><rect class="b" x="878.5" y="603.5" width="100" height="17"/><rect class="c" x="878" y="602"/><rect class="s" x="878" y="619"/><text x="880" y="616">r~ interlude_mix</text></g>
<g id="r_backup_mix"><rect class="b" x="888.5" y="623.5" width="82" height="17"/><rect class="c" x="888" y="622"/><rect class="s" x="888" y="639"/><text x="890" y="636">r~ backup_mix</text></g>
<g id="dac"><rect class="b" x="860.5" y="661.5" width="28" height="17"/><rect class="s" x="860" y="660"/><rect class="s" x="881" y="660"/><text x="862" y="673">dac~</text></g>
<g id="c_recording"><rect class="d" x="928.5" y="660.5" width="57" height="17"/><text x="930" y="672">RECORDING</text></g>
<g id="bang_e"><rect class="t" x="912.5" y="690.5"/><circle class="l" cx="920" cy="698" r="6.5"/></g>
<g id="delay18"><rect class="b" x="936.5" y="689.5" width="82" height="17"/><rect class="c" x="936" y="688"/><rect class="c" x="1011" y="688"/><rect class="c" x="936" y="705"/><text x="938" y="702">delay 1.8e+06</text></g>
<g id="msg_open_wav"><polygon class="m" points="849.5,720.5 964.5,720.5 959.5,725 959.5,732 964.5,736.5 849.5,736.5"/><rect class="c" x="849" y="719"/><rect class="c" x="849" y="735"/><text x="851" y="732">open pd-output.wav</text></g>
<g id="msg_start_b"><polygon class="m" points="903.5,742.5 942.5,742.5 937.5,747 937.5,755 942.5,759.5 903.5,759.5"/><rect class="c" x="903" y="741"/><rect class="c" x="903" y="758"/><text x="905" y="755">start</text></g>
<g id="msg_stop"><polygon class="m" points="966.5,739.5 997.5,739.5 992.5,744 992.5,752 997.5,756.5 966.5,756.5"/><rect class="c" x="966" y="738"/><rect class="c" x="966" y="755"/><text x="968" y="752">stop</text></g>
<g id="writesf"><rect class="b" x="919.5" y="770.5" width="64" height="17"/><rect class="s" x="919" y="769"/><rect class="s" x="976" y="769"/><text x="921" y="783">writesf~ 2</text></g>
<g id="r_lbng_b"><rect class="b" x="727.5" y="800.5" width="40" height="17"/><rect class="c" x="727" y="816"/><text x="729" y="813">r lbng</text></g>
<g id="c_backup"><rect class="d" x="772.5" y="805.5" width="71" height="18"/><text x="774" y="818">BACKUP FILE</text></g>
<g id="msg_03b"><polygon class="m" points="731.5,830.5 757.5,830.5 752.5,835 752.5,842 757.5,846.5 731.5,846.5"/><rect class="c" x="731" y="829"/><rect class="c" x="731" y="845"/><text x="733" y="842">0.3</text></g>
<g id="osc400"><rect class="b" x="771.5" y="833.5" width="52" height="16"/><rect class="s" x="771" y="832"/><rect class="c" x="816" y="832"/><rect class="s" x="771" y="848"/><text x="773" y="845">osc~ 400</text></g>
<g id="msg_open"><polygon class="m" points="832.5,830.5 863.5,830.5 858.5,835 858.5,843 863.5,847.5 832.5,847.5"/><rect class="c" x="832" y="829"/><rect class="c" x="832" y="846"/><text x="834" y="843">open</text></g>
<g id="num_03b"><path class="n" d="M731.5 852.5H756L762.5 859V868.5H731.5Z"/><rect class="c" x="731" y="851"/><rect class="c" x="731" y="867"/><text x="733" y="864">0.3</text></g>
<g id="mul_c"><rect class="b" x="753.5" y="867.5" width="22" height="17"/><rect class="s" x="753" y="866"/><rect class="s" x="768" y="866"/><rect class="s" x="753" y="883"/><text x="755" y="880">*~</text></g>
<g id="readsf"><rect class="b" x="833.5" y="866.5" width="47" height="17"/><rect class="c" x="833" y="865"/><rect class="s" x="833" y="882"/><rect class="c" x="873" y="882"/><text x="835" y="879">readsf~</text></g>
<g id="c_todo_backup"><rect class="d" x="827.5" y="891.5" width="129" height="17"/><text x="829" y="903">TODO: add backup file</text></g>
<g id="s_backup_mix"><rect class="b" x="751.5" y="897.5" width="81" height="17"/><rect class="s" x="751" y="896"/><text x="753" y="910">s~ backup_mix</text></g>

<g id="connectors">
<path class="a" d="M387 28C387 36 44.500 122 44.500 152M403 28C403 36 102.500 122 102.500 152M420 28C420 36 165.500 119 165.500 149M436 28C436 36 222.500 120 222.500 150M453 28C453 36 282.500 122 282.500 152M470 28C470 36 338.500 122 338.500 152M486 28C486 36 400.500 122 400.500 152M503 28C503 36 460.500 122 460.500 152M520 28V152M536 28C536 36 579.500 118 579.500 148M553 28C553 36 643.500 125 643.500 155M570 28C570 36 701.500 122 701.500 152"/>
<path class="a" d="M84.500 168C84.500 178 42.500 166 42.500 176M84.500 168C84.500 188 42.500 178 42.500 198M142.500 168C142.500 178 102.500 166 102.500 176M142.500 168C142.500 188 102.500 178 102.500 198M205.500 165C205.500 178 161.500 163 161.500 176M205.500 165C205.500 188 162.500 175 162.500 198M262.500 166C262.500 176 221.500 164 221.500 174M262.500 166C262.500 188 222.500 176 222.500 198M322.500 168C322.500 178 282.500 166 282.500 176M322.500 168C322.500 188 282.500 178 282.500 198M378.500 168C378.500 178 337.500 166 337.500 176M378.500 168C378.500 188 342.500 178 342.500 198M440.500 168C440.500 178 400.500 166 400.500 176M440.500 168C440.500 188 402.500 178 402.500 198M500.500 168C500.500 179 461.500 166 461.500 177M500.500 168C500.500 188 462.500 178 462.500 198M559.500 168C559.500 177 519.500 166 519.500 175M559.500 168C559.500 188 522.500 178 522.500 198M619.500 164C619.500 176 581.500 162 581.500 174M619.500 164C619.500 186 582.500 176 582.500 198M683.500 171C683.500 182 642.500 166 642.500 177M683.500 171C683.500 188 642.500 181 642.500 198M741.500 168C741.500 178 700.500 164 700.500 174M741.500 168C741.500 188 702.500 178 702.500 198"/>
<path class="w" d="M42.500 214V220M102.500 214V220M162.500 214V220M222.500 214V220M282.500 214V220M342.500 214V220M402.500 214V220M462.500 214V220M522.500 214V220M582.500 214V220M642.500 214V220M702.500 214V220M42.500 236V242M102.500 236V242M162.500 236V242M222.500 236V242M282.500 236V242M342.500 236V242M402.500 236V242M462.500 236V242M522.500 236V242M582.500 236V242M642.500 236V242M702.500 236V242"/>
<path class="w" d="M42.500 236C42.500 244 619.500 491 619.500 499M102.500 236C102.500 244 633.500 491 633.500 499M162.500 236C162.500 244 647.500 491 647.500 499M222.500 236C222.500 244 661.500 491 661.500 499M282.500 236C282.500 244 675.500 491 675.500 499M342.500 236C342.500 244 689.500 491 689.500 499M402.500 236C402.500 244 703.500 491 703.500 499M462.500 236C462.500 244 717.500 491 717.500 499M522.500 236C522.500 244 731.500 491 731.500 499M582.500 236C582.500 244 745.500 491 745.500 499M642.500 236C642.500 244 759.500 491 759.500 499M702.500 236C702.500 244 773.500 491 773.500 499"/>
<path class="w" d="M210 21C210 31 39.500 28 39.500 38M210 21C210 31 152.500 28 152.500 38M210 21C210 31 230.500 28 230.500 38M210 21C210 30 134.500 91 134.500 100M293.500 33C293.500 38 152.500 30 152.500 38M293.500 33C293.500 38 230.500 30 230.500 38M152.500 54V60M230.500 54V60M46.500 94V100"/>
<path class="w" d="M134.500 116C134.500 125 76.500 124 76.500 133M134.500 116V131M134.500 116C134.500 122 196.500 120 196.500 127M134.500 116C134.500 123 254.500 122 254.500 129M134.500 116C134.500 124 314.500 124 314.500 131M134.500 116C134.500 124 368.500 124 368.500 131M134.500 116C134.500 124 431.500 124 431.500 131M134.500 116C134.500 124 491.500 124 491.500 131M134.500 116C134.500 124 554.500 124 554.500 131M134.500 116C134.500 123 610.500 122 610.500 129M134.500 116C134.500 124 674.500 124 674.500 131M134.500 116C134.500 124 733.500 124 733.500 131"/>
<path class="w" d="M80 148L84.500 152M139 146L142.500 152M199 142L205.500 149M256 144L262.500 150M317 146L322.500 152M371 146L378.500 152M434 146L440.500 152M494 146L500.500 152M557 146L559.500 152M613 144L619.500 148M677 146L683.500 155M736 146L741.500 152"/>
<path class="w" d="M229 535V541"/>
<path class="a" d="M14.500 659V849M14.500 659C14.500 672 24.500 660 24.500 665M14.500 659C14.500 690 193 585 194.500 617"/>
<path class="w" d="M24.500 681V687M24.500 703V708M194.500 633V638M194.500 633C194.500 650 148.500 640 148.500 658M194.500 654V659M194.500 675C194.500 690 180.500 686 180.500 701M148.500 675V681M148.500 696V701M148.500 717V722M148.500 717C148.500 730 199.500 682 199.500 699M148.500 739V745M148.500 762V767M148.500 783C148.500 815 277.500 805 277.500 833M199.500 716C199.500 740 277.500 715 277.500 736M277.500 736V741M277.500 758V762M277.500 779V785M277.500 802V812M277.500 828V833M302.500 673C302.500 678 307.500 676 307.500 681M307.500 698C307.500 725 277.500 785 277.500 812M277.500 849C277.500 880 423.500 745 423.500 779"/>
<path class="a" d="M336.500 459V465M336.500 481C336.500 500 427.500 605 427.500 626M409.500 529C409.500 540 427.500 615 427.500 626M409.500 549C409.500 560 427.500 615 427.500 626M409.500 569C409.500 578 427.500 617 427.500 626M409.500 589C409.500 597 427.500 618 427.500 626M469.500 529C469.500 545 427.500 610 427.500 626M469.500 549C469.500 565 427.500 610 427.500 626M469.500 569C469.500 585 427.500 610 427.500 626M469.500 589C469.500 600 427.500 612 427.500 626M529.500 529C529.500 555 427.500 605 427.500 626M529.500 549C529.500 572 427.500 605 427.500 626M529.500 569C529.500 585 427.500 608 427.500 626M529.500 589C529.500 608 427.500 610 427.500 626"/>
<path class="a" d="M427.500 643C427.500 665 353.500 685 353.500 713M358.500 751C358.500 775 407.500 755 407.500 779M407.500 795C407.500 810 371.500 797 371.500 817M407.500 795C407.500 830 484.500 590 484.500 623"/>
<path class="w" d="M484.500 641V645M487.500 661C487.500 675 533.500 630 533.500 645M487.500 661V667M510.500 852C510.500 875 423.500 745 423.500 779"/>
<path class="w" d="M619.500 515V521M619.500 515C619.500 530 655.500 515 655.500 529M655.500 546C655.500 555 625.500 544 625.500 553M655.500 546V563M655.500 546C655.500 555 705.500 552 705.500 561M657.500 581V586M705.500 578V582M657.500 602L662.500 624M705.500 598C705.500 615 739.500 605 739.500 620M625.500 568L629.500 624M625.500 568C625.500 590 706.500 595 706.500 620M629.500 641V645M706.500 637C706.500 642 746.500 637 746.500 642M706.500 637V718M746.500 659V664M629.500 660L623.500 667M623.500 684V688M623.500 703C623.500 718 592.500 703 592.500 718M592.500 735L591.500 759M706.500 735C706.500 755 591.500 740 591.500 759M591.500 777C591.500 795 510.500 795 510.500 816M510.500 832V836M510.500 852V857M510.500 874V879M510.500 895C510.500 925 771.500 845 771.500 867M773.500 659C773.500 700 835.500 790 835.500 830M746.500 680C746.500 730 836.500 830 836.500 866M835.500 847L836.500 866M730.500 817L734.500 830M734.500 846V852M734.500 868C734.500 880 756.500 852 756.500 867"/>
<path class="a" d="M774.500 849C774.500 860 756.500 856 756.500 867M836.500 883C836.500 900 771.500 850 771.500 867M756.500 884L754.500 897"/>
<path class="a" d="M872.500 600C872.500 612 863.500 649 863.500 661M872.500 600C872.500 612 884.500 649 884.500 661M872.500 600C872.500 615 922.500 755 922.500 770M872.500 600C872.500 615 979.500 755 979.500 770M881.500 620C881.500 632 863.500 645 863.500 661M881.500 620C881.500 632 884.500 649 884.500 661M881.500 620C881.500 635 922.500 755 922.500 770M881.500 620C881.500 635 979.500 755 979.500 770M891.500 640C891.500 652 863.500 641 863.500 661M891.500 640C891.500 650 884.500 645 884.500 661M891.500 640C891.500 652 922.500 755 922.500 770M891.500 640C891.500 652 979.500 755 979.500 770"/>
<path class="w" d="M914 685V691M915.500 705C915.500 720 906.500 728 906.500 742M915.500 705C915.500 690 939.500 670 939.500 689M906.500 759C906.500 766 922.500 762 922.500 770M906.500 755V765M969.500 756C969.500 770 922.500 755 922.500 770M852.500 736C852.500 760 922.500 745 922.500 770M939.500 706C939.500 722 969.500 725 969.500 739"/>
</g>
</svg>
